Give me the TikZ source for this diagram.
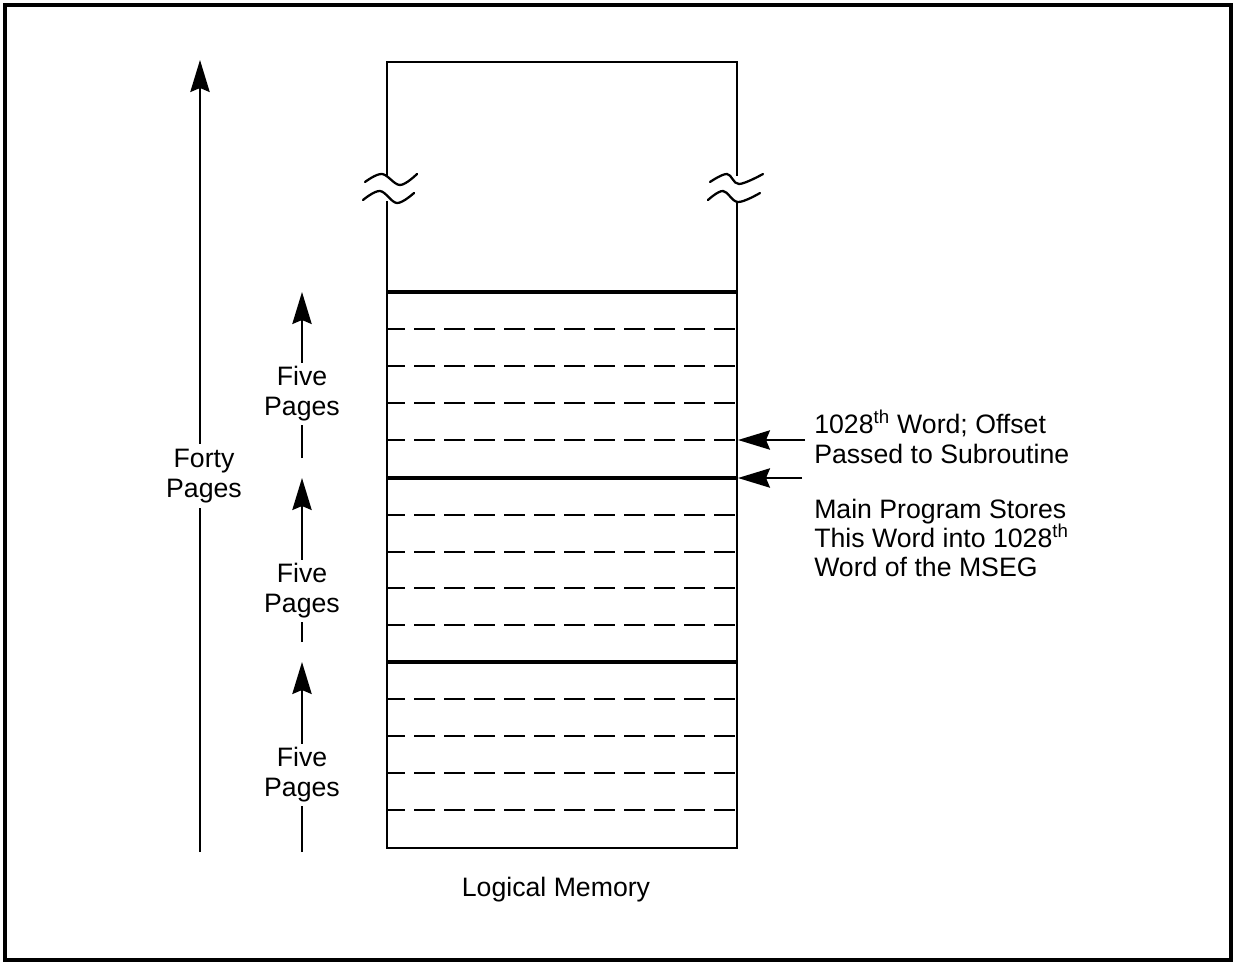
\documentclass[tikz,border=0pt]{standalone}
\usepackage{fontspec}
\setmainfont{Liberation Sans}
\usetikzlibrary{arrows.meta}
\begin{document}
\begin{tikzpicture}[x=0.75pt,y=-0.75pt,
  lbl/.style={font=\fontsize{20}{22.5}\selectfont, align=center, inner sep=3pt, fill=white},
  rlbl/.style={font=\fontsize{20}{22}\selectfont, align=left, inner sep=0pt, anchor=west},
  arr/.style={line width=1.5pt, -{Stealth[length=24pt,width=14.5pt,inset=3pt]}},
  memline/.style={line width=1.7pt},
  divider/.style={line width=2.4pt},
  rowline/.style={line width=1.3pt, dash pattern=on 15.75pt off 6.75pt, dash phase=2.25pt},
  brk/.style={line width=1.7pt, line cap=round},
]
\useasboundingbox (0,0) rectangle (1234,963);
\draw[line width=2.3pt] (5,5) rectangle (1231,960);

% memory column
\coordinate (tl) at (387,62);
\coordinate (tr) at (737,62);
\coordinate (bl) at (387,848);
\coordinate (br) at (737,848);
\draw[memline] (387,176) -- (tl) -- (tr) -- (737,176);
\draw[memline] (387,201) -- (bl) -- (br) -- (737,201);

% break symbols
\draw[brk] plot[smooth, tension=0.6] coordinates {(365,182) (382,174) (400,185) (417,174)};
\draw[brk] plot[smooth, tension=0.6] coordinates {(363,200) (380,191) (397,203) (414,193)};
\draw[brk] plot[smooth, tension=0.6] coordinates {(710,182) (727,174) (739,184) (763,174)};
\draw[brk] plot[smooth, tension=0.6] coordinates {(708,200) (723,191) (738,202) (760,193)};

% dividers
\foreach \y in {292,478,662} \draw[divider] (388,\y) -- (737,\y);
% page rows
\foreach \y in {329,366,403,440,515,552,588,625,699,736,773,810}
  \draw[rowline] (387,\y) -- (737,\y);

% Forty pages arrow
\coordinate (fb) at (200,852);
\coordinate (ft) at (200,60);
\draw[arr] (fb) -- (ft);
\node[lbl, inner sep=4pt] (forty) at (204,476) {Forty\\Pages};

% Five pages arrows
\coordinate (ab1) at (302,458); \coordinate (at1) at (302,292);
\coordinate (ab2) at (302,642); \coordinate (at2) at (302,478);
\coordinate (ab3) at (302,852); \coordinate (at3) at (302,662);
\draw[arr] (ab1) -- (at1);
\draw[arr] (ab2) -- (at2);
\draw[arr] (ab3) -- (at3);
\node[lbl] (five1) at (302,394) {Five\\Pages};
\node[lbl] (five2) at (302,591) {Five\\Pages};
\node[lbl] (five3) at (302,775) {Five\\Pages};

% right side arrows and labels
\node[rlbl] (offset) at (814,437) {1028\textsuperscript{th} Word; Offset\\Passed to Subroutine};
\node[rlbl] (stores) at (814,538) {Main Program Stores\\This Word into 1028\textsuperscript{th}\\Word of the MSEG};
\coordinate (o1) at (805,440); \coordinate (t1) at (738,440);
\coordinate (o2) at (802,478); \coordinate (t2) at (738,478);
\draw[arr] (o1) -- (t1);
\draw[arr] (o2) -- (t2);

\node[font=\fontsize{20}{22}\selectfont, inner sep=0pt] (lm) at (556,890) {Logical Memory};
\end{tikzpicture}
\end{document}
